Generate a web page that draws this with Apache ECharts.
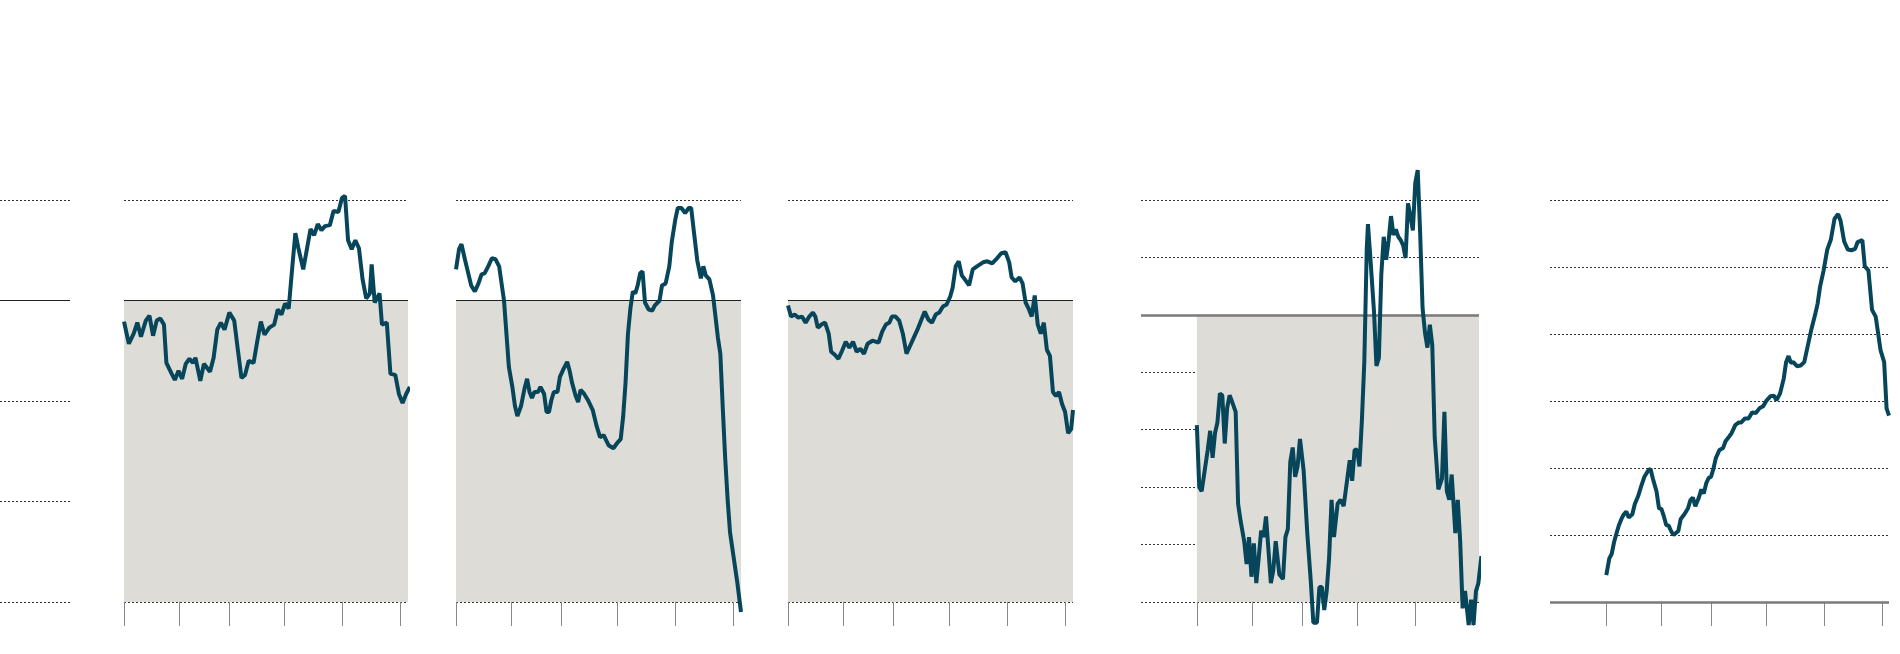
<!DOCTYPE html>
<html><head><meta charset="utf-8">
<script src="https://cdn.jsdelivr.net/npm/echarts@6/dist/echarts.min.js"></script>
<style>html,body{margin:0;padding:0;background:#fff}#c{width:1900px;height:654px}</style>
</head><body><div id="c"></div>
<script>
const tickValues = [0, 45.5, 87, 132.5, 180, 228];

const series1 = [[0,-2.1],[4,-4.3],[8,-3.3],[11,-2.2],[14,-3.6],[18,-2.0],[21,-1.5],[24,-3.5],[27,-2.0],[30,-1.8],[33,-2.4],[35,-6.2],[39,-7.2],[42,-7.9],[45,-7.0],[48,-7.8],[51,-6.3],[54,-5.8],[57,-6.2],[59,-5.7],[63,-8.0],[66,-6.3],[71,-7.1],[74,-5.7],[77,-2.9],[80,-2.2],[83,-2.9],[87,-1.2],[91,-2.0],[94,-4.9],[97,-7.7],[100,-7.4],[103,-6.0],[107,-6.2],[110,-4.1],[113,-2.1],[116,-3.4],[120,-2.7],[124,-2.4],[127,-0.9],[130,-1.4],[133,-0.3],[136,-0.8],[139,3.4],[141.5,6.7],[144,5.2],[148,3.1],[151,5.1],[154,7.1],[157,6.5],[160,7.6],[163,7.0],[166,7.4],[170,7.5],[173,8.9],[177,8.8],[180,10.2],[182.5,10.4],[185,6.0],[188,5.1],[191,6.0],[194,5.2],[197,2.1],[200,0.2],[203,0.7],[204.5,3.6],[207,-0.2],[211,0.7],[213,-2.4],[217,-2.2],[220,-7.3],[224,-7.4],[227,-9.3],[230,-10.2],[233,-9.3],[236,-8.6]];

const series2 = [[0,3.1],[2.5,5.1],[4.5,5.6],[7.5,4.0],[9.5,3.0],[12.5,1.5],[15.5,0.9],[18.5,1.7],[21,2.6],[23.5,2.7],[26.5,3.4],[29.5,4.2],[32.5,4.1],[35.5,3.4],[37.5,1.7],[39.5,0.0],[41.5,-3.3],[43.5,-6.6],[46.5,-8.7],[48.5,-10.5],[50.5,-11.5],[53.5,-10.5],[56.5,-8.7],[58.5,-7.8],[60.5,-9.1],[62.5,-9.7],[64.5,-9.1],[67.5,-9.1],[69.5,-8.6],[72.5,-9.3],[74.5,-11.1],[76.5,-11.1],[78.5,-9.9],[80.5,-9.1],[83.5,-9.1],[85.5,-7.6],[88.5,-6.8],[91.5,-6.1],[93.5,-7.0],[95.5,-8.2],[98.5,-9.5],[100.5,-10.1],[102.5,-8.9],[105.5,-9.3],[108.5,-9.9],[112.5,-10.9],[115.5,-12.4],[118.5,-13.6],[121.5,-13.4],[125.5,-14.4],[129.5,-14.7],[132.5,-14.2],[135.5,-13.8],[137.5,-11.6],[139.5,-8.2],[141.5,-3.3],[143.5,-0.8],[145.5,0.9],[147.5,0.7],[149.5,1.5],[151.5,2.7],[153.5,2.9],[155.5,-0.2],[158.5,-0.9],[161.5,-1.0],[163.5,-0.5],[167.5,0.0],[169.5,1.5],[172.5,1.7],[175.5,3.4],[177.5,5.8],[180.5,8.1],[182.5,9.2],[185.5,9.2],[188.5,8.7],[191.5,9.2],[193.5,9.2],[195.5,7.1],[198.5,4.0],[201.5,2.2],[203.5,3.4],[205.5,2.5],[208.5,2.1],[211.5,0.5],[213.5,-1.6],[215.5,-3.7],[217.5,-5.3],[219.5,-10.7],[221.5,-15.7],[223.5,-19.8],[225.5,-23.1],[228.5,-25.6],[231.5,-28.1],[234.5,-31.0]];

const series3 = [[0,-0.5],[2.5,-1.6],[5.5,-1.4],[8.5,-1.7],[11.5,-1.6],[14.5,-2.2],[17.5,-1.6],[20.5,-1.2],[22.5,-1.6],[24.5,-2.7],[27.5,-2.4],[30.5,-2.2],[33.5,-3.3],[35.5,-5.1],[38.5,-5.4],[41.5,-5.8],[44.5,-5.0],[47.5,-4.1],[50.5,-4.7],[53.5,-4.1],[56.5,-5.1],[59.5,-4.8],[62.5,-5.3],[65.5,-4.3],[69.5,-4.0],[74.5,-4.2],[77.5,-3.1],[80.5,-2.4],[83.5,-2.2],[85.5,-1.6],[88.5,-1.6],[91.5,-2.0],[94.5,-3.3],[97.5,-5.3],[100.5,-4.5],[103.5,-3.7],[106.5,-2.9],[109.5,-2.0],[112.5,-1.1],[115.5,-1.9],[118.5,-2.2],[121.5,-1.4],[124.5,-1.2],[127.5,-0.6],[130.5,-0.4],[133.5,0.4],[135.5,1.3],[138,3.4],[140.5,3.9],[143,2.5],[145.5,2.1],[149,1.5],[152,3.1],[155.5,3.4],[160.5,3.8],[164,3.9],[168,3.7],[172,4.2],[175.5,4.7],[179,4.8],[182,3.8],[184,2.3],[187,1.9],[190.5,2.3],[193,1.7],[195.5,-0.2],[198,-0.8],[200.5,-1.6],[203,0.5],[205.5,-2.4],[208,-3.3],[210.5,-2.2],[213,-4.9],[215.5,-5.5],[218,-9.1],[220.5,-9.5],[223,-9.1],[225.5,-10.3],[228,-11.1],[230.5,-13.2],[233,-12.8],[234.5,-10.9]];

const series4 = [[0,-1.92],[2,-3.0],[4,-3.07],[6,-2.78],[9,-2.35],[11,-2.02],[13,-2.49],[15,-2.06],[17,-1.87],[19,-1.37],[21,-1.40],[23,-2.24],[25,-1.62],[27,-1.40],[29,-1.51],[32,-1.69],[34,-3.29],[36,-3.58],[39,-3.94],[41,-4.34],[43,-3.87],[45,-4.56],[47,-3.98],[49,-4.67],[51,-4.23],[53,-3.76],[55,-3.87],[57,-3.51],[59,-4.09],[61,-4.67],[63,-4.45],[65,-3.94],[68,-4.52],[71,-4.60],[73,-3.87],[75,-3.73],[77,-2.56],[79,-2.31],[81,-2.82],[83,-2.64],[85,-2.16],[88,-2.71],[91,-3.80],[94,-4.67],[96,-5.36],[99,-5.36],[101,-4.74],[103,-4.74],[105,-5.14],[107,-4.81],[109,-4.23],[111,-3.22],[113,-3.87],[116,-3.29],[118.5,-3.22],[121,-3.33],[124,-2.85],[126,-2.53],[128,-2.89],[130,-2.35],[132,-2.35],[134,-2.64],[136,-1.84],[138,-0.82],[140,1.14],[141,1.58],[143,0.99],[146,0.05],[148,-0.89],[150,-0.75],[152,0.70],[154,1.36],[156,0.96],[158,1.29],[160,1.72],[162,1.39],[164,1.49],[166,1.36],[168,1.30],[170,1.21],[172,0.99],[174,1.94],[176,1.72],[178,1.47],[180,2.30],[182,2.52],[184,1.43],[186,0.12],[188,-0.31],[190,-0.57],[192,-0.17],[194,-0.53],[196,-2.13],[199,-3.04],[202,-2.85],[204,-1.69],[206,-3.07],[208,-3.22],[210,-2.78],[213,-3.80],[215,-3.22],[217,-3.94],[219,-5.11],[221,-4.81],[224,-5.40],[226,-4.96],[228,-5.40],[230,-4.81],[232,-4.67],[234.5,-4.20]];

const series5 = [[0,0.40],[2.5,0.65],[4.5,0.72],[6.5,0.90],[8.5,1.03],[10.5,1.15],[12.5,1.24],[14.5,1.31],[16.5,1.35],[18.5,1.26],[21.5,1.31],[23.5,1.46],[26.5,1.59],[28.5,1.71],[31.5,1.87],[34.5,1.96],[36.5,1.99],[38.5,1.84],[41.5,1.65],[43.5,1.40],[45.5,1.39],[47.5,1.28],[49.5,1.15],[51.5,1.14],[53.5,1.06],[55.5,1.00],[57.5,1.03],[59.5,1.06],[61.5,1.24],[64.5,1.31],[67.5,1.40],[69.5,1.52],[71.5,1.56],[73.5,1.43],[76.5,1.56],[78.5,1.68],[80.5,1.62],[82.5,1.77],[84.5,1.85],[86.5,1.87],[88.5,1.99],[90.5,2.15],[93.5,2.27],[96.5,2.30],[98.5,2.40],[101.5,2.47],[103.5,2.52],[106.5,2.64],[109.5,2.68],[111.5,2.68],[114.5,2.74],[117.5,2.74],[120.5,2.83],[123.5,2.82],[126.5,2.89],[129.5,2.92],[132.5,3.01],[135.5,3.07],[138.5,3.08],[140.5,3.01],[143.5,3.11],[146.5,3.33],[148.5,3.58],[150.5,3.67],[152.5,3.57],[154.5,3.58],[157.5,3.52],[160.5,3.53],[163.5,3.58],[166.5,3.83],[169.5,4.08],[172.5,4.29],[174.5,4.45],[176.5,4.70],[179.5,4.95],[182.5,5.26],[185.5,5.41],[188.5,5.72],[191.5,5.79],[193.5,5.69],[196.5,5.38],[199.5,5.26],[202.5,5.25],[205.5,5.27],[207.5,5.37],[211.5,5.40],[213.5,5.01],[216.5,4.95],[219.5,4.36],[222.5,4.26],[224.5,4.01],[226.5,3.76],[229.5,3.58],[231.5,2.89],[233.5,2.78]];

const LINE = '#07465a', SHADE = '#dddcd7';
const panels = [
  {left:0, width:70, xmin:0, xmax:1, ymin:-30, ymax:10, step:10, data:null, shade:false, zero:'black', ticks:false},
  {left:124, width:284, xmin:0, xmax:234.5, ymin:-30, ymax:10, step:10, data:series1, shade:true, zero:'black', ticks:true},
  {left:456, width:285, xmin:0, xmax:234.5, ymin:-30, ymax:10, step:10, data:series2, shade:true, zero:'black', ticks:true},
  {left:788, width:285, xmin:0, xmax:234.5, ymin:-30, ymax:10, step:10, data:series3, shade:true, zero:'black', ticks:true},
  {left:1141, width:338, xmin:-46, xmax:232.5, ymin:-5, ymax:2, step:1, data:series4, shade:true, zero:'gray', ticks:true},
  {left:1550, width:339, xmin:-46.5, xmax:233.5, ymin:0, ymax:6, step:1, data:series5, shade:false, zero:'gray', ticks:true}
];
const grid=[], xAxis=[], yAxis=[], series=[];
panels.forEach((p,i)=>{
  grid.push({left:p.left, width:p.width, top:200, height:402});
  xAxis.push({type:'value', gridIndex:i, min:p.xmin, max:p.xmax, axisLine:{show:false}, splitLine:{show:false}, axisLabel:{show:false}, axisTick:{show:false}});
  yAxis.push({type:'value', gridIndex:i, min:p.ymin, max:p.ymax, interval:p.step, axisLine:{show:false}, axisTick:{show:false}, axisLabel:{show:false},
    splitLine:{show:true, lineStyle:{type:[2,2], color:'#333', width:1}}});
  const mk = {silent:true, symbol:'none', label:{show:false},
    lineStyle: p.zero==='black' ? {type:'solid', color:'#222', width:1} : {type:'solid', color:'#7a7a7a', width:2.5},
    data:[{yAxis:0}]};
  const s = {type:'line', xAxisIndex:i, yAxisIndex:i, data:p.data||[], showSymbol:false, clip:false, z:5,
    lineStyle:{color:LINE, width:4}, itemStyle:{color:LINE}, markLine:mk, animation:false};
  if (p.shade) s.markArea = {silent:true, itemStyle:{color:SHADE}, data:[[{coord:[0,0]},{coord:[p.xmax,p.ymin]}]]};
  series.push(s);
});
// tick-only overlay axes
panels.forEach((p)=>{
  if (!p.ticks) return;
  const gi = grid.length;
  grid.push({left:p.left, width:p.width, top:200, height:402});
  xAxis.push({type:'value', gridIndex:gi, min:p.xmin, max:p.xmax, axisLine:{show:false}, splitLine:{show:false}, axisLabel:{show:false},
    axisTick:{show:true, customValues:tickValues, length:24, inside:false, lineStyle:{color:'#888', width:1}}});
  yAxis.push({type:'value', gridIndex:gi, min:0, max:1, show:false, splitLine:{show:false}});
  series.push({type:'line', xAxisIndex:gi, yAxisIndex:gi, data:[], showSymbol:false});
});
const chart = echarts.init(document.getElementById('c'));
chart.setOption({animation:false, grid, xAxis, yAxis, series});
</script></body></html>
